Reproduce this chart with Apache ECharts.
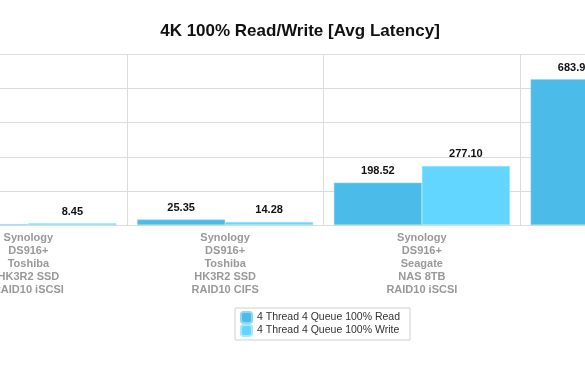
<!DOCTYPE html>
<html>
<head>
<meta charset="utf-8">
<script src="https://cdn.jsdelivr.net/npm/echarts@6/dist/echarts.min.js"></script>
<style>
  html, body { margin: 0; padding: 0; background: #fff; overflow: hidden; }
  #wrap { position: relative; width: 585px; height: 378px; overflow: hidden; }
  /* the original chart is wider than the window; only its middle part shows */
  #chart { position: absolute; left: -70px; top: 0; width: 900px; height: 378px; }
</style>
</head>
<body>
<div id="wrap"><div id="chart"></div></div>
<script>
// categories and values
const categories = [
  'Synology\nDS916+\nToshiba\nHK3R2 SSD\nRAID10 iSCSI',
  'Synology\nDS916+\nToshiba\nHK3R2 SSD\nRAID10 CIFS',
  'Synology\nDS916+\nSeagate\nNAS 8TB\nRAID10 iSCSI',
  'Synology\nDS916+\nSeagate\nNAS 8TB\nRAID10 CIFS'
]
const readValues = [4.1, 25.35, 198.52, 683.96]
const writeValues = [8.45, 14.28, 277.10, 590.0]
const seriesNames = ['4 Thread 4 Queue 100% Read', '4 Thread 4 Queue 100% Write']

const offsetX = 70

const chart = echarts.init(document.getElementById('chart'))

const labelStyle = {
  show: true,
  position: 'top',
  distance: 6,
  color: '#111',
  fontWeight: 'bold',
  fontSize: 11,
  fontFamily: 'Liberation Sans',
  formatter: (p) => p.value.toFixed(2)
}

const option = {
  animation: false,
  textStyle: { fontFamily: 'Liberation Sans' },
  title: {
    text: '4K 100% Read/Write [Avg Latency]',
    left: 295 + offsetX,
    textAlign: 'center',
    top: 18,
    textStyle: { fontSize: 17, fontWeight: 'bold', color: '#111', fontFamily: 'Liberation Sans' }
  },
  legend: {
    data: seriesNames,
    orient: 'vertical',
    left: 235 + offsetX,
    top: 308,
    borderColor: '#cfcfcf',
    borderWidth: 1,
    padding: [3, 10, 3, 5],
    itemWidth: 11,
    itemHeight: 11,
    itemGap: 0,
    textStyle: { fontSize: 10.5, color: '#333', fontFamily: 'Liberation Sans', lineHeight: 12 }
  },
  grid: {
    left: 0,
    right: 113,
    top: 54.5,
    bottom: 153
  },
  xAxis: {
    type: 'category',
    data: categories,
    axisLine: { lineStyle: { color: '#dcdcdc' } },
    axisTick: { show: false },
    splitLine: { show: true, lineStyle: { color: '#dcdcdc' } },
    axisLabel: {
      color: '#999',
      fontWeight: 'bold',
      fontSize: 11,
      lineHeight: 13,
      margin: 6,
      interval: 0
    }
  },
  yAxis: {
    type: 'value',
    min: 0,
    max: 800,
    interval: 160,
    axisLabel: { show: false },
    axisLine: { show: false },
    axisTick: { show: false },
    splitLine: { lineStyle: { color: '#dcdcdc' } }
  },
  series: [
    {
      name: seriesNames[0],
      type: 'bar',
      barWidth: 88,
      barGap: '0%',
      itemStyle: { color: '#4bbbea', borderColor: '#8fd6f3', borderWidth: 0.5 },
      label: labelStyle,
      data: readValues
    },
    {
      name: seriesNames[1],
      type: 'bar',
      barWidth: 88,
      itemStyle: { color: '#63d6ff', borderColor: '#a6e8ff', borderWidth: 0.5 },
      label: labelStyle,
      data: writeValues
    }
  ]
}

chart.setOption(option)
</script>
</body>
</html>
